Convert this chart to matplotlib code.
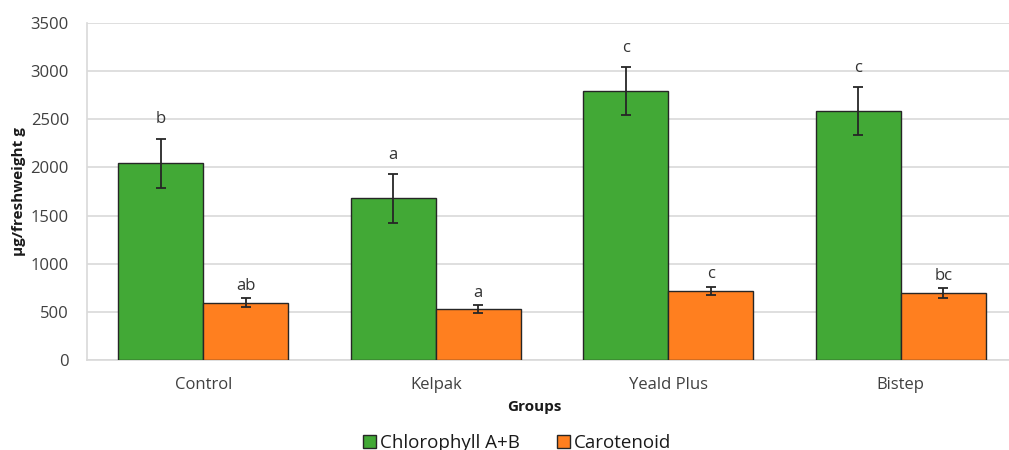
import matplotlib.pyplot as plt
import numpy as np
from matplotlib.patches import Patch

# Pigment content per treatment group (µg / g fresh weight)
groups = ["Control", "Kelpak", "Yeald Plus", "Bistep"]
chlorophyll = [2045, 1679, 2792, 2585]
chlorophyll_err = [254, 254, 250, 250]
carotenoid = [597, 529, 718, 698]
carotenoid_err = [45, 43, 45, 47]
chl_letters = ["b", "a", "c", "c"]
car_letters = ["ab", "a", "c", "bc"]

GREEN = "#42A936"
ORANGE = "#FF7F1F"
EDGE = "#262626"
TEXT = "#404040"

plt.rcParams["font.family"] = ["Open Sans", "DejaVu Sans"]

fig = plt.figure(figsize=(10.09, 4.5), dpi=100)
ax = fig.add_axes([87 / 1009, 89.7 / 450, 930 / 1009, 337.6 / 450])

x = np.arange(len(groups))
w = 0.366

ax.bar(x - w / 2, chlorophyll, w, color=GREEN, edgecolor=EDGE,
       linewidth=1.0, zorder=3)
ax.bar(x + w / 2, carotenoid, w, color=ORANGE, edgecolor=EDGE,
       linewidth=1.0, zorder=3)
ax.errorbar(x - w / 2, chlorophyll, yerr=chlorophyll_err, fmt="none",
            ecolor="#262626", elinewidth=1.3, capsize=3.5, capthick=1.3, zorder=4)
ax.errorbar(x + w / 2, carotenoid, yerr=carotenoid_err, fmt="none",
            ecolor="#262626", elinewidth=1.3, capsize=3.5, capthick=1.3, zorder=4)

# significance letters above each error bar
for xi, v, e, s in zip(x - w / 2, chlorophyll, chlorophyll_err, chl_letters):
    ax.annotate(s, (xi, v + e), xytext=(0, 11), textcoords="offset points",
                ha="center", va="baseline", fontsize=12, color="#333333")
for xi, v, e, s in zip(x + w / 2, carotenoid, carotenoid_err, car_letters):
    ax.annotate(s, (xi, v + e), xytext=(0, 6), textcoords="offset points",
                ha="center", va="baseline", fontsize=12, color="#333333")

ax.set_xlim(-0.5, len(groups) - 0.5)
ax.set_ylim(0, 3500)
ax.set_yticks(np.arange(0, 3501, 500))
ax.set_xticks(x)
ax.set_xticklabels(groups)
ax.tick_params(axis="both", length=0, labelsize=12, labelcolor=TEXT)
ax.tick_params(axis="y", pad=13)
ax.tick_params(axis="x", pad=12)

ax.grid(axis="y", color="#D9D9D9", linewidth=1.2, zorder=0)
ax.set_axisbelow(True)
for side in ("top", "right"):
    ax.spines[side].set_visible(False)
for side in ("left", "bottom"):
    ax.spines[side].set_color("#D9D9D9")
    ax.spines[side].set_linewidth(1.2)

ax.set_ylabel("µg/freshweight g", fontsize=11, fontweight="bold",
              color="#1a1a1a", labelpad=3)
fig.text(534 / 1009, 1 - 407 / 450, "Groups", ha="center", va="center",
         fontsize=11, fontweight="bold", color="#1a1a1a")

handles = [Patch(facecolor=GREEN, edgecolor=EDGE, linewidth=1.0, label="Chlorophyll A+B"),
           Patch(facecolor=ORANGE, edgecolor=EDGE, linewidth=1.0, label="Carotenoid")]
fig.legend(handles=handles, loc="center", bbox_to_anchor=(517 / 1009, 7 / 450),
           ncol=2, frameon=False, fontsize=13.5, handlelength=0.7,
           handleheight=0.7, handletextpad=0.2, columnspacing=2.0,
           labelcolor="#1a1a1a")

fig.savefig("out.png", dpi=100, facecolor="white")
